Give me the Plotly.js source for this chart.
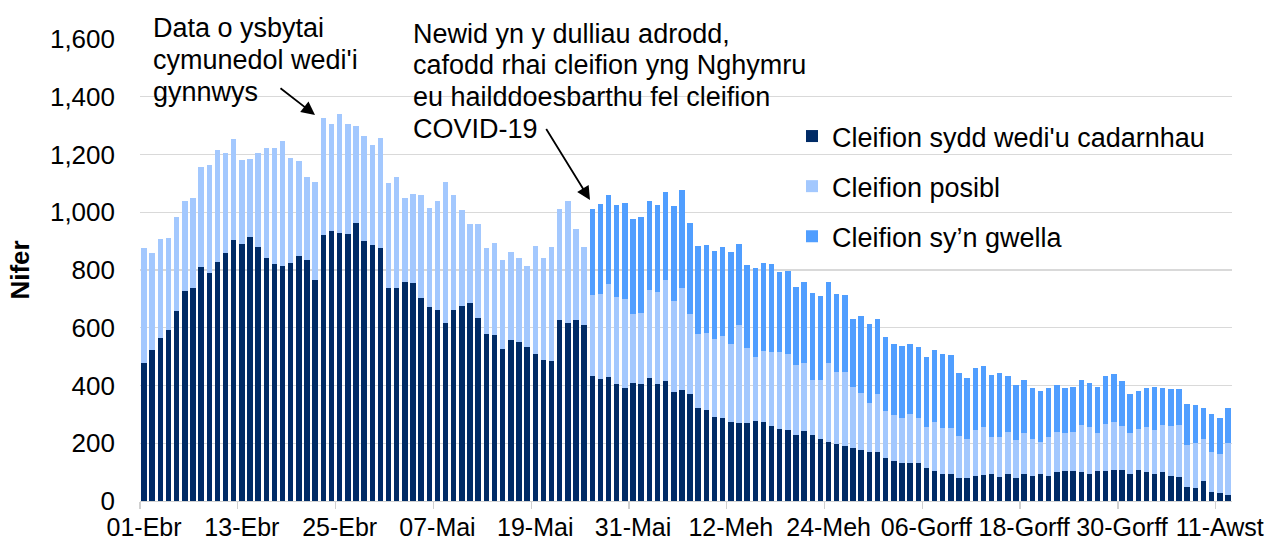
<!DOCTYPE html>
<html>
<head>
<meta charset="utf-8">
<script src="https://cdn.plot.ly/plotly-3.0.1.min.js"></script>
<style>
  html, body { margin: 0; padding: 0; background: #ffffff; }
  #chart { width: 1277px; height: 542px; }
</style>
</head>
<body>
<div id="chart"></div>
<script>
// Series values, one per day from 01-Ebr (index 0) to 12-Awst (index 133)
const confirmed = [
  479,522,563,592,659,728,736,812,791,828,859,903,891,916,881,840,820,815,825,849,
  836,767,920,935,928,924,964,901,887,877,739,739,759,755,703,671,663,615,662,676,
  686,634,579,576,527,559,550,534,510,490,486,626,618,626,611,434,421,430,405,393,
  409,405,426,405,414,377,385,369,322,314,291,287,275,270,270,278,275,259,251,246,
  230,243,227,214,206,198,190,182,178,170,170,149,138,130,133,130,114,105,94,94,
  81,78,86,90,92,84,95,79,92,87,95,87,100,103,103,100,95,103,103,108,
  108,95,108,100,95,100,87,84,50,46,71,31,26,22
];
const suspected = [
  396,337,345,320,325,312,312,345,374,389,346,351,290,270,324,381,401,431,364,327,
  285,339,405,371,413,382,333,364,347,380,362,382,289,309,358,345,377,490,399,332,
  275,327,296,316,308,305,293,281,373,353,394,387,422,317,269,281,297,321,302,305,
  237,245,305,318,353,317,354,278,257,269,269,284,269,338,261,222,244,257,265,262,
  242,236,192,205,273,249,257,213,197,170,202,162,160,156,169,159,144,169,160,160,
  145,136,160,168,131,139,145,133,143,128,109,136,140,132,137,163,160,132,164,167,
  151,140,143,155,152,163,172,179,145,154,145,137,137,178
];
const recovering = [
  null,null,null,null,null,null,null,null,null,null,null,null,null,null,null,null,null,null,null,null,
  null,null,null,null,null,null,null,null,null,null,null,null,null,null,null,null,null,null,null,null,
  null,null,null,null,null,null,null,null,null,null,null,null,null,null,null,297,311,310,318,334,
  331,335,309,302,302,327,338,317,304,303,305,310,317,282,285,306,306,306,277,288,
  268,278,301,290,278,270,265,237,265,273,260,257,246,251,242,243,241,250,254,250,
  217,213,213,211,214,221,193,189,185,177,176,169,161,157,156,157,154,161,166,166,
  158,137,129,137,149,129,129,125,141,132,107,135,125,123
];

// Series names and tick labels
const seriesNames = ["Cleifion sydd wedi'u cadarnhau", "Cleifion posibl", "Cleifion sy\u2019n gwella"];
const tickIndex = [0, 12, 24, 36, 48, 60, 72, 84, 96, 108, 120, 132];
const tickLabels = ["01-Ebr","13-Ebr","25-Ebr","07-Mai","19-Mai","31-Mai","12-Meh","24-Meh","06-Gorff","18-Gorff","30-Gorff","11-Awst"];
const yTitle = "Nifer";
const note1 = ["Data o ysbytai", "cymunedol wedi'i", "gynnwys"];
const note2 = ["Newid yn y dulliau adrodd,", "cafodd rhai cleifion yng Nghymru", "eu hailddoesbarthu fel cleifion", "COVID-19"];

// Dates for each category (daily, 2020)
const DAY = 86400000;
const startMs = Date.UTC(2020, 3, 1);
function iso(ms) { return new Date(ms).toISOString().slice(0, 19).replace('T', ' '); }
const dates = confirmed.map((_, i) => iso(startMs + i * DAY).slice(0, 10));
const xRange = [iso(startMs - DAY / 2), iso(startMs + (confirmed.length - 1) * DAY + DAY / 2)];
const tickLabelVals = tickIndex.map(i => iso(startMs + i * DAY));
const tickBoundVals = tickIndex.map(i => iso(startMs + i * DAY - DAY / 2));

const colors = ["#002b66", "#a3c8fe", "#509eff"];
const FONT = "Liberation Sans, Arial, sans-serif";

const traces = [confirmed, suspected, recovering].map((vals, k) => ({
  type: 'bar',
  x: dates,
  y: vals,
  name: seriesNames[k],
  legendgroup: 'g' + k,
  marker: { color: colors[k], line: { width: 0 } },
  hoverinfo: 'x+y+name'
}));
// invisible helper trace so the label axis (x2) is drawn
traces.push({
  type: 'scatter', mode: 'none', x: xRange, y: [null, null],
  xaxis: 'x2', yaxis: 'y', showlegend: false, hoverinfo: 'skip'
});

const annotations = [];
const n1y = [28, 60, 92];
note1.forEach((t, i) => annotations.push({
  xref: 'paper', yref: 'paper', x: (151 - 140) / 1092, y: (501 - n1y[i]) / 462,
  xanchor: 'left', yanchor: 'middle', text: t, showarrow: false,
  font: { family: FONT, size: 27, color: '#000' }
}));
const n2y = [34, 65, 97, 129];
note2.forEach((t, i) => annotations.push({
  xref: 'paper', yref: 'paper', x: (411 - 140) / 1092, y: (501 - n2y[i]) / 462,
  xanchor: 'left', yanchor: 'middle', text: t, showarrow: false,
  font: { family: FONT, size: 27, color: '#000' }
}));
// Arrows
annotations.push({
  xref: 'paper', yref: 'paper', x: (315 - 140) / 1092, y: (501 - 115) / 462,
  ax: -36, ay: -28, text: ' ', font: { size: 1 }, showarrow: true,
  arrowhead: 2, arrowsize: 1.5, arrowwidth: 1.8, arrowcolor: '#000', standoff: 0
});
annotations.push({
  xref: 'paper', yref: 'paper', x: (590 - 140) / 1092, y: (501 - 200) / 462,
  ax: -45, ay: -73, text: ' ', font: { size: 1 }, showarrow: true,
  arrowhead: 2, arrowsize: 1.5, arrowwidth: 1.8, arrowcolor: '#000', standoff: 0
});

const layout = {
  width: 1277, height: 542,
  margin: { l: 140, r: 45, t: 39, b: 41, pad: 0 },
  paper_bgcolor: '#ffffff', plot_bgcolor: '#ffffff',
  font: { family: FONT, size: 26, color: '#000' },
  barmode: 'stack',
  bargap: 0.33,
  showlegend: true,
  legend: {
    x: (792 - 140) / 1092, xanchor: 'left',
    y: (501 - 112) / 462, yanchor: 'top',
    bgcolor: 'rgba(0,0,0,0)', borderwidth: 0,
    traceorder: 'grouped', tracegroupgap: 12,
    font: { family: FONT, size: 27, color: '#000' }
  },
  xaxis: {
    type: 'date', range: xRange, fixedrange: true,
    tickmode: 'array', tickvals: tickBoundVals, ticktext: tickBoundVals.map(() => ''),
    ticks: 'outside', ticklen: 7, tickwidth: 1.3, tickcolor: '#d0d0d0',
    showline: true, linecolor: '#d0d0d0', linewidth: 1.3,
    showgrid: false, zeroline: false, showticklabels: false
  },
  xaxis2: {
    type: 'date', range: xRange, overlaying: 'x', anchor: 'y', side: 'bottom', fixedrange: true,
    tickmode: 'array', tickvals: tickLabelVals, ticktext: tickLabels,
    ticks: '', showline: false, showgrid: false, zeroline: false,
    ticklabelstandoff: 9,
    tickfont: { family: FONT, size: 25, color: '#000' }
  },
  yaxis: {
    range: [0, 1600], dtick: 200, tick0: 0, tickformat: ',d', fixedrange: true,
    showgrid: true, gridcolor: '#d9d9d9', gridwidth: 1.3,
    zeroline: false, showline: false, ticks: '',
    ticklabelstandoff: 24,
    tickfont: { family: FONT, size: 26, color: '#000' },
    title: { text: yTitle, standoff: 12, font: { family: FONT, size: 26, color: '#000', weight: 'bold' } }
  },
  annotations: annotations
};

Plotly.newPlot('chart', traces, layout, { displayModeBar: false, staticPlot: true });
</script>
</body>
</html>
